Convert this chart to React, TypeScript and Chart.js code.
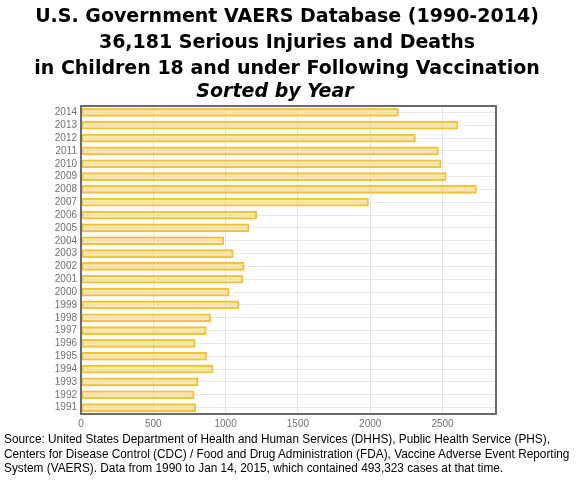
import React, { useEffect, useRef } from "react";
import { Chart, registerables } from "chart.js";

Chart.register(...registerables);

const titleLines = [
  "U.S. Government VAERS Database (1990-2014)",
  "36,181 Serious Injuries and Deaths",
  "in Children 18 and under Following Vaccination",
];
const subtitleText = "Sorted by Year";
const footerLines = [
  "Source: United States Department of Health and Human Services (DHHS), Public Health Service (PHS),",
  "Centers for Disease Control (CDC) / Food and Drug Administration (FDA), Vaccine Adverse Event Reporting",
  "System (VAERS). Data from 1990 to Jan 14, 2015, which contained 493,323 cases at that time.",
];

const years = [
  "2014", "2013", "2012", "2011", "2010", "2009", "2008", "2007", "2006", "2005", "2004", "2003",
  "2002", "2001", "2000", "1999", "1998", "1997", "1996", "1995", "1994", "1993", "1992", "1991",
];
const counts = [
  2195, 2607, 2313, 2472, 2491, 2526, 2735, 1988, 1215, 1163, 988, 1053,
  1129, 1120, 1025, 1092, 898, 866, 790, 868, 914, 810, 783, 794,
];
const xTickValues = [0, 500, 1000, 1500, 2000, 2500];
const xMax = 2870;

const framePlugin = {
  id: "frame",
  afterDraw(chart: any) {
    const { ctx, chartArea } = chart;
    ctx.save();
    ctx.strokeStyle = "#6a6a6a";
    ctx.lineWidth = 2;
    ctx.strokeRect(chartArea.left, chartArea.top, chartArea.right - chartArea.left, chartArea.bottom - chartArea.top);
    ctx.restore();
  },
};

const titleTops = [1.6, 27.6, 53.6];

export default function App() {
  const canvasRef = useRef<HTMLCanvasElement | null>(null);

  useEffect(() => {
    if (!canvasRef.current) return;
    const chart = new Chart(canvasRef.current, {
      type: "bar",
      data: {
        labels: years,
        datasets: [
          {
            data: counts,
            backgroundColor: "rgba(246, 214, 120, 0.55)",
            borderColor: "#f2c232",
            borderWidth: 1.5,
            borderSkipped: false,
            barThickness: 8,
          },
        ],
      },
      options: {
        indexAxis: "y",
        animation: false,
        responsive: false,
        maintainAspectRatio: false,
        layout: { padding: { top: 106, left: 0, right: 84, bottom: 59 } },
        plugins: {
          legend: { display: false },
          tooltip: { enabled: false },
          title: { display: false },
        },
        scales: {
          x: {
            min: 0,
            max: xMax,
            afterBuildTicks: (scale: any) => {
              scale.ticks = xTickValues.map((v) => ({ value: v }));
            },
            afterFit: (scale: any) => {
              scale.height = 20;
            },
            grid: { color: "#e4e4e4", lineWidth: 1, drawTicks: false },
            border: { display: false },
            ticks: {
              color: "#707070",
              font: { family: "Liberation Sans", size: 10 },
              padding: 4,
              maxRotation: 0,
              callback: (v: any) => String(v),
            },
          },
          y: {
            afterFit: (scale: any) => {
              scale.width = 81;
            },
            grid: { color: "#e8e8e8", lineWidth: 1, offset: false, drawTicks: false },
            border: { display: false },
            ticks: {
              color: "#707070",
              font: { family: "Liberation Sans", size: 10 },
              padding: 4,
              autoSkip: false,
            },
          },
        },
      },
      plugins: [framePlugin],
    });
    return () => chart.destroy();
  }, []);

  const titleStyle: React.CSSProperties = {
    position: "absolute",
    left: -3,
    width: 580,
    textAlign: "center",
    fontFamily: "'DejaVu Sans', sans-serif",
    fontWeight: "bold",
    fontSize: 19,
    lineHeight: "26px",
    color: "#000",
    whiteSpace: "nowrap",
  };

  return (
    <div style={{ position: "absolute", left: 0, top: 0, width: 580, height: 493, background: "#fff", overflow: "hidden" }}>
      <canvas ref={canvasRef} width={580} height={493} style={{ position: "absolute", left: 0, top: 0, width: 580, height: 493 }} />
      {titleLines.map((t, i) => (
        <div key={t} style={{ ...titleStyle, top: titleTops[i] }}>
          {t}
        </div>
      ))}
      <div style={{ ...titleStyle, top: 77.3, fontStyle: "italic", width: 556 }}>{subtitleText}</div>
      <div
        style={{
          position: "absolute",
          left: 4,
          top: 432,
          width: 640,
          fontFamily: "'Liberation Sans', Arial, sans-serif",
          fontSize: 12,
          lineHeight: "14.7px",
          color: "#000",
          whiteSpace: "nowrap",
          transform: "scaleX(0.985)",
          transformOrigin: "0 0",
        }}
      >
        {footerLines.map((t) => (
          <div key={t}>{t}</div>
        ))}
      </div>
    </div>
  );
}
